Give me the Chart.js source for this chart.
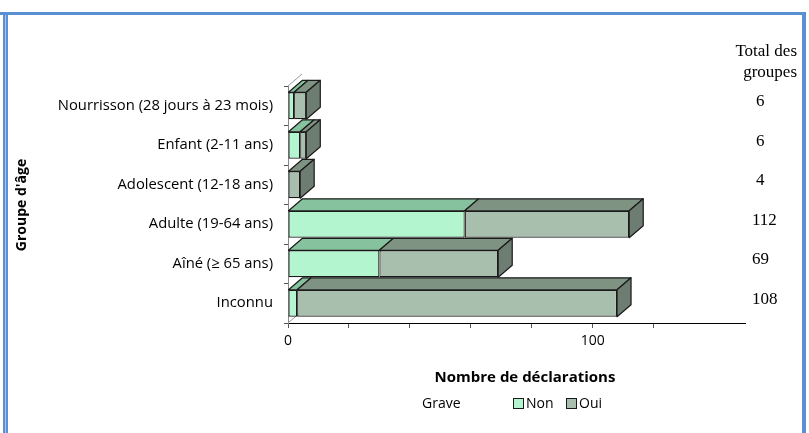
<!DOCTYPE html>
<html>
<head>
<meta charset="utf-8">
<script src="https://cdn.jsdelivr.net/npm/chart.js@4"></script>
<style>
  body { margin: 0; background: #fff; }
  #wrap { position: relative; width: 809px; height: 433px; }
  .frame { position: absolute; background: #5b8fd4; }
</style>
</head>
<body>
<div id="wrap">
  <canvas id="chart" width="809" height="433"></canvas>
  <div class="frame" style="left:0;top:12px;width:806px;height:3px;"></div>
  <div class="frame" style="left:3px;top:12px;width:5px;height:421px;"></div>
  <div style="position:absolute;left:5px;top:15px;width:1px;height:418px;background:#a9c4ea;"></div>
  <div class="frame" style="left:802px;top:12px;width:4px;height:421px;"></div>
</div>
<script>
// data
const groupes = ['Nourrisson (28 jours à 23 mois)', 'Enfant (2-11 ans)', 'Adolescent (12-18 ans)', 'Adulte (19-64 ans)', 'Aîné (≥ 65 ans)', 'Inconnu'];
const graveNon = [2, 4, 0, 58, 30, 3];
const graveOui = [4, 2, 4, 54, 39, 105];
const xTickLabels = [0, 100];

const totaux = groupes.map((g, i) => graveNon[i] + graveOui[i]);

// colours: front, top
const colNon = ['#b3f5cf', '#86c29e'];
const colOui = ['#a9bfad', '#7f9383'];
const colSide = '#6e7d71';
const DX = 14, DY = 12;

function poly(ctx, pts, fill) {
    ctx.beginPath();
    ctx.moveTo(pts[0][0], pts[0][1]);
    for (let i = 1; i < pts.length; i++) ctx.lineTo(pts[i][0], pts[i][1]);
    ctx.closePath();
    ctx.fillStyle = fill;
    ctx.fill();
    ctx.stroke();
}

// 3D faces + extra text
const bars3d = {
    id: 'bars3d',
    beforeDatasetsDraw(chart) {
        const ctx = chart.ctx;
        const area = chart.chartArea;
        ctx.save();
        ctx.strokeStyle = '#999';
        ctx.lineWidth = 1;
        // back wall edge + floor edge
        ctx.beginPath();
        ctx.moveTo(area.left, area.top);
        ctx.lineTo(area.left + DX, area.top - DY);
        ctx.moveTo(area.left, area.bottom);
        ctx.lineTo(area.left + DX, area.bottom - DY);
        ctx.stroke();
        ctx.restore();
    },
    afterDatasetsDraw(chart) {
        const ctx = chart.ctx;
        const m0 = chart.getDatasetMeta(0).data;
        const m1 = chart.getDatasetMeta(1).data;
        ctx.save();
        ctx.strokeStyle = '#1a1a1a';
        ctx.lineWidth = 1.2;
        ctx.lineJoin = 'round';
        for (let i = 0; i < groupes.length; i++) {
            const segs = [[m0[i], colNon], [m1[i], colOui]];
            let last = null;
            segs.forEach(([el, col]) => {
                const p = el.getProps(['x', 'y', 'base', 'height'], true);
                if (Math.abs(p.x - p.base) < 0.5) return;
                const top = p.y - p.height / 2;
                poly(ctx, [[p.base, top], [p.x, top], [p.x + DX, top - DY], [p.base + DX, top - DY]], col[1]);
                last = p;
            });
            if (last) {
                const top = last.y - last.height / 2, bot = last.y + last.height / 2;
                poly(ctx, [[last.x, top], [last.x + DX, top - DY], [last.x + DX, bot - DY], [last.x, bot]], colSide);
            }
        }
        ctx.restore();
    },
    afterDraw(chart) {
        const ctx = chart.ctx;
        const ys = chart.scales.y;
        ctx.save();
        ctx.fillStyle = '#000';
        // totals column
        ctx.font = '17px "Liberation Serif"';
        ctx.textBaseline = 'middle';
        ctx.textAlign = 'right';
        ctx.fillText('Total des', 797, 52);
        ctx.fillText('groupes', 797, 73);
        ctx.textAlign = 'left';
        totaux.forEach((t, i) => {
            ctx.fillText(String(t), t < 10 ? 756 : 752, ys.getPixelForValue(i) - 4);
        });
        // axis titles
        ctx.textAlign = 'center';
        ctx.font = 'bold 15px "Open Sans"';
        ctx.fillText('Nombre de déclarations', 525, 378);
        ctx.save();
        ctx.translate(22, 205);
        ctx.rotate(-Math.PI / 2);
        ctx.font = 'bold 14px "Open Sans"';
        ctx.fillText("Groupe d'âge", 0, 0);
        ctx.restore();
        // legend
        ctx.font = '14px "Open Sans"';
        ctx.textAlign = 'left';
        ctx.fillText('Grave', 422, 404);
        ctx.strokeStyle = '#1a1a1a';
        ctx.lineWidth = 1;
        ctx.fillStyle = colNon[0];
        ctx.fillRect(513.5, 398.5, 10, 10);
        ctx.strokeRect(513.5, 398.5, 10, 10);
        ctx.fillStyle = colOui[0];
        ctx.fillRect(566.5, 398.5, 10, 10);
        ctx.strokeRect(566.5, 398.5, 10, 10);
        ctx.fillStyle = '#000';
        ctx.fillText('Non', 526, 404);
        ctx.fillText('Oui', 579, 404);
        ctx.restore();
    }
};

new Chart(document.getElementById('chart'), {
    type: 'bar',
    data: {
        labels: groupes,
        datasets: [
            { label: 'Non', data: graveNon, backgroundColor: colNon[0], borderColor: '#1a1a1a', borderWidth: 1.2, borderSkipped: false },
            { label: 'Oui', data: graveOui, backgroundColor: colOui[0], borderColor: '#1a1a1a', borderWidth: 1.2, borderSkipped: false }
        ]
    },
    options: {
        indexAxis: 'y',
        responsive: false,
        animation: false,
        categoryPercentage: 1,
        barPercentage: 0.68,
        layout: { padding: { left: 0, right: 64, top: 86, bottom: 0 } },
        plugins: { legend: { display: false }, tooltip: { enabled: false } },
        scales: {
            x: {
                stacked: true,
                min: 0, max: 150,
                afterFit: s => { s.height = 110; },
                border: { display: true, color: '#000', width: 1 },
                grid: {
                    drawOnChartArea: false, drawTicks: true, tickLength: 5,
                    tickColor: c => (c.tick && c.tick.value === 150) ? 'rgba(0,0,0,0)' : '#555'
                },
                ticks: {
                    stepSize: 20, padding: 5, color: '#000', maxRotation: 0,
                    font: { family: 'Open Sans', size: 14 },
                    callback: v => xTickLabels.includes(v) ? String(v) : ''
                }
            },
            y: {
                stacked: true,
                afterFit: s => { s.width = 288; },
                border: { display: true, color: '#888', width: 1 },
                grid: { drawOnChartArea: false, drawTicks: true, tickLength: 4, offset: true, tickColor: '#555' },
                ticks: { padding: 11, color: '#000', font: { family: 'Open Sans', size: 14.8 } }
            }
        }
    },
    plugins: [bars3d]
});
</script>
</body>
</html>
